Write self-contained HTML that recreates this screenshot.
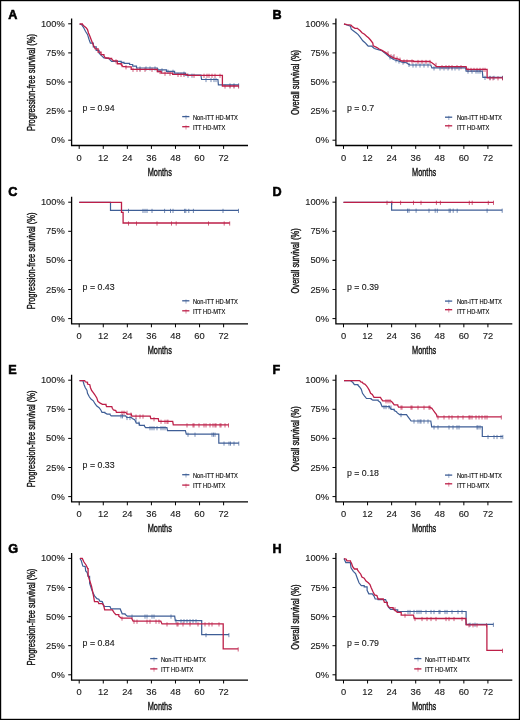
<!DOCTYPE html>
<html><head><meta charset="utf-8"><style>
html,body{margin:0;padding:0;background:#fff;}
svg{display:block;will-change:transform;}
.tk{font-family:"Liberation Sans",sans-serif;font-size:8.5px;fill:#1a1a1a;stroke:#1a1a1a;stroke-width:0.12px;}
.ttl{font-family:"Liberation Sans",sans-serif;font-size:11px;fill:#111;stroke:#111;stroke-width:0.4px;}
.pv{font-family:"Liberation Sans",sans-serif;font-size:8.5px;fill:#1a1a1a;stroke:#1a1a1a;stroke-width:0.12px;}
.lg{font-family:"Liberation Sans",sans-serif;font-size:6.8px;fill:#000;stroke:#000;stroke-width:0.12px;}
</style></head><body>
<svg width="520" height="720" viewBox="0 0 520 720">
<rect x="0" y="0" width="520" height="720" fill="#fff"/>
<g transform="translate(0,0)">
<text transform="translate(8.2,18.6) scale(0.93,1)" font-family="Liberation Sans" font-weight="bold" font-size="13.6" fill="#000" stroke="#000" stroke-width="0.6">A</text>
<path d="M71.6,18.4V145.5H248" fill="none" stroke="#000" stroke-width="1.3"/>
<path d="M68.2,23.8H71.6" stroke="#000" stroke-width="1"/>
<text transform="translate(64.8,26.8) scale(1.1,1)" text-anchor="end" class="tk">100%</text>
<path d="M68.2,52.9H71.6" stroke="#000" stroke-width="1"/>
<text transform="translate(64.8,55.9) scale(1.1,1)" text-anchor="end" class="tk">75%</text>
<path d="M68.2,82H71.6" stroke="#000" stroke-width="1"/>
<text transform="translate(64.8,85) scale(1.1,1)" text-anchor="end" class="tk">50%</text>
<path d="M68.2,111.1H71.6" stroke="#000" stroke-width="1"/>
<text transform="translate(64.8,114.1) scale(1.1,1)" text-anchor="end" class="tk">25%</text>
<path d="M68.2,140.2H71.6" stroke="#000" stroke-width="1"/>
<text transform="translate(64.8,143.2) scale(1.1,1)" text-anchor="end" class="tk">0%</text>
<path d="M79.2,145.5V148.9" stroke="#000" stroke-width="1"/>
<text transform="translate(79.2,160.7) scale(1.1,1)" text-anchor="middle" class="tk">0</text>
<path d="M103.27,145.5V148.9" stroke="#000" stroke-width="1"/>
<text transform="translate(103.27,160.7) scale(1.1,1)" text-anchor="middle" class="tk">12</text>
<path d="M127.34,145.5V148.9" stroke="#000" stroke-width="1"/>
<text transform="translate(127.34,160.7) scale(1.1,1)" text-anchor="middle" class="tk">24</text>
<path d="M151.41,145.5V148.9" stroke="#000" stroke-width="1"/>
<text transform="translate(151.41,160.7) scale(1.1,1)" text-anchor="middle" class="tk">36</text>
<path d="M175.48,145.5V148.9" stroke="#000" stroke-width="1"/>
<text transform="translate(175.48,160.7) scale(1.1,1)" text-anchor="middle" class="tk">48</text>
<path d="M199.55,145.5V148.9" stroke="#000" stroke-width="1"/>
<text transform="translate(199.55,160.7) scale(1.1,1)" text-anchor="middle" class="tk">60</text>
<path d="M223.62,145.5V148.9" stroke="#000" stroke-width="1"/>
<text transform="translate(223.62,160.7) scale(1.1,1)" text-anchor="middle" class="tk">72</text>
<text transform="translate(159.8,175.8) scale(0.67,1)" text-anchor="middle" class="ttl">Months</text>
<text transform="translate(35,82.5) rotate(-90) scale(0.685,1)" text-anchor="middle" class="ttl">Progression-free survival (%)</text>
<text transform="translate(82.6,111.3) scale(1.035,1)" class="pv">p = 0.94</text>
</g>
<path d="M182.2,116.6H189.4" stroke="#3e5e96" stroke-width="1.3"/><path d="M186,115.2V119.4" stroke="#3e5e96" stroke-width="0.7" opacity="0.75"/>
<text transform="translate(192.9,120) scale(0.845,1)" class="lg">Non-ITT HD-MTX</text>
<path d="M182.2,126.7H189.4" stroke="#bd1f48" stroke-width="1.3"/><path d="M186,125.3V129.5" stroke="#bd1f48" stroke-width="0.7" opacity="0.75"/>
<text transform="translate(192.9,130) scale(0.845,1)" class="lg">ITT HD-MTX</text>
<path d="M140,66.4V70.6M146,66.4V70.6M150,66.4V70.6M155,66.4V70.6M158,68.3V72.5M162,68.3V72.5M168,69.7V73.9M173,69.7V73.9M184,71.6V75.8M188,73.6V77.8M192,73.6V77.8M206,77.9V82.1M211,77.9V82.1M214,77.9V82.1M216,77.9V82.1M230,83.3V87.5M234,83.3V87.5M238.6,83.3V87.5" fill="none" stroke="#3e5e96" stroke-width="0.8" opacity="0.9"/>
<path d="M116,59.3V63.5M122,63.1V67.3M126,65.2V69.4M133,67.7V71.9M137,67.7V71.9M140,67.7V71.9M145,67.7V71.9M152,67.7V71.9M160,69.9V74.1M165,71.6V75.8M170,71.6V75.8M178,72.8V77M181,72.8V77M184,72.8V77M194,73.7V77.9M204,73.7V77.9M207,73.7V77.9M209,73.7V77.9M212,73.7V77.9M215,73.7V77.9M220,73.7V77.9M225,84.4V88.6M230,84.4V88.6M234,84.4V88.6M238.6,84.4V88.6" fill="none" stroke="#bd1f48" stroke-width="0.8" opacity="0.9"/>
<path d="M79.6,24L81.8,24.8L83.7,27.7L85.6,31.5L87.5,34.4L89,39.2L90.4,43.1H93.3V46.9H96.2V50.3H99.1V53.2L101.5,55.6L103.9,58H106.8V58.5H109.7V59.4L111.6,61.3H117.3V61.3H121.2V62.3H124V63.4H129.6V64.5H132.7V66.1H136.5V68H157.3V68.3H157.3V69.9H166.5V70.3H166.5V71.3H174.6V71.3H174.6V73.2H185.5V73.2H185.5V75.2H200.9V75.3L201.6,79.5H217.9V79.5L218.4,84.9H238.6V84.9" fill="none" stroke="#3e5e96" stroke-width="1.2"/>
<path d="M79.6,24H82.3V24.3L83.7,25.8L86.1,27.7L87.5,29.6L88.5,33L89.9,36.3L91.4,40.2L93.3,45L95.2,48.8H98.1V52.2H101V54.6H103.9V55.6L105.3,58H108.7V58.5H111.6V58.9L113.5,60.9H117.3V63.75H121.2V64.7L123.1,66.6H125.8V66.8H131.2V66.8H131.2V69.3H157.3V69.4H157.3V71.5H161.2V71.8H161.2V73.2H172.7V73.4H172.7V74.4H187.3V74.6H187.3V75.3H222.2V75.3H222.4V86H238.6V86" fill="none" stroke="#bd1f48" stroke-width="1.3"/>
<g transform="translate(264.3,0)">
<text transform="translate(8.2,18.6) scale(0.93,1)" font-family="Liberation Sans" font-weight="bold" font-size="13.6" fill="#000" stroke="#000" stroke-width="0.6">B</text>
<path d="M71.6,18.4V145.5H248" fill="none" stroke="#000" stroke-width="1.3"/>
<path d="M68.2,23.8H71.6" stroke="#000" stroke-width="1"/>
<text transform="translate(64.8,26.8) scale(1.1,1)" text-anchor="end" class="tk">100%</text>
<path d="M68.2,52.9H71.6" stroke="#000" stroke-width="1"/>
<text transform="translate(64.8,55.9) scale(1.1,1)" text-anchor="end" class="tk">75%</text>
<path d="M68.2,82H71.6" stroke="#000" stroke-width="1"/>
<text transform="translate(64.8,85) scale(1.1,1)" text-anchor="end" class="tk">50%</text>
<path d="M68.2,111.1H71.6" stroke="#000" stroke-width="1"/>
<text transform="translate(64.8,114.1) scale(1.1,1)" text-anchor="end" class="tk">25%</text>
<path d="M68.2,140.2H71.6" stroke="#000" stroke-width="1"/>
<text transform="translate(64.8,143.2) scale(1.1,1)" text-anchor="end" class="tk">0%</text>
<path d="M79.2,145.5V148.9" stroke="#000" stroke-width="1"/>
<text transform="translate(79.2,160.7) scale(1.1,1)" text-anchor="middle" class="tk">0</text>
<path d="M103.27,145.5V148.9" stroke="#000" stroke-width="1"/>
<text transform="translate(103.27,160.7) scale(1.1,1)" text-anchor="middle" class="tk">12</text>
<path d="M127.34,145.5V148.9" stroke="#000" stroke-width="1"/>
<text transform="translate(127.34,160.7) scale(1.1,1)" text-anchor="middle" class="tk">24</text>
<path d="M151.41,145.5V148.9" stroke="#000" stroke-width="1"/>
<text transform="translate(151.41,160.7) scale(1.1,1)" text-anchor="middle" class="tk">36</text>
<path d="M175.48,145.5V148.9" stroke="#000" stroke-width="1"/>
<text transform="translate(175.48,160.7) scale(1.1,1)" text-anchor="middle" class="tk">48</text>
<path d="M199.55,145.5V148.9" stroke="#000" stroke-width="1"/>
<text transform="translate(199.55,160.7) scale(1.1,1)" text-anchor="middle" class="tk">60</text>
<path d="M223.62,145.5V148.9" stroke="#000" stroke-width="1"/>
<text transform="translate(223.62,160.7) scale(1.1,1)" text-anchor="middle" class="tk">72</text>
<text transform="translate(159.8,175.8) scale(0.67,1)" text-anchor="middle" class="ttl">Months</text>
<text transform="translate(35,82.5) rotate(-90) scale(0.685,1)" text-anchor="middle" class="ttl">Overall survival (%)</text>
<text transform="translate(82.6,111.3) scale(1.035,1)" class="pv">p = 0.7</text>
</g>
<path d="M445,117.2H452.2" stroke="#3e5e96" stroke-width="1.3"/><path d="M448.8,115.8V120" stroke="#3e5e96" stroke-width="0.7" opacity="0.75"/>
<text transform="translate(456.9,120) scale(0.845,1)" class="lg">Non-ITT HD-MTX</text>
<path d="M445,125.8H452.2" stroke="#bd1f48" stroke-width="1.3"/><path d="M448.8,124.4V128.6" stroke="#bd1f48" stroke-width="0.7" opacity="0.75"/>
<text transform="translate(456.9,130) scale(0.845,1)" class="lg">ITT HD-MTX</text>
<path d="M390,55.3V59.5M393,55.3V59.5M396,58.2V62.4M399,59.4V63.6M403,60.5V64.7M409,62.8V67M413,63.4V67.6M416,63.4V67.6M420,63.4V67.6M424,63.4V67.6M428,63.4V67.6M434,66.3V70.5M440,66.3V70.5M444,66.3V70.5M448,66.3V70.5M452,66.3V70.5M455,66.3V70.5M459,66.3V70.5M468,69.5V73.7M472,69.5V73.7M476,69.5V73.7M478,69.5V73.7M480,69.5V73.7M485,75.8V80M490,75.8V80M494,75.8V80M502.5,75.8V80" fill="none" stroke="#3e5e96" stroke-width="0.8" opacity="0.9"/>
<path d="M388,51.3V55.5M391,54.2V58.4M394,54.2V58.4M397,56.5V60.7M400,57.6V61.8M404,59.4V63.6M407,59.4V63.6M412,59.4V63.6M418,59.9V64.1M422,59.9V64.1M426,59.9V64.1M430,59.9V64.1M436,62.8V67M442,65.1V69.3M446,65.1V69.3M449,65.1V69.3M452,65.1V69.3M457,65.1V69.3M461,65.1V69.3M468,67.8V72M471,67.8V72M474,67.8V72M477,67.8V72M480,67.8V72M483,67.8V72M485,67.8V72M490,76.2V80.4M493,76.2V80.4M498,76.2V80.4M502.5,76.2V80.4" fill="none" stroke="#bd1f48" stroke-width="0.8" opacity="0.9"/>
<path d="M344,24L347,25L350.5,26.2L351.2,29.2L354.3,31.5L356.3,33L358.2,34.6L360.5,37.7L362.8,40.8L365.1,42.7L366.7,44.5L368.2,46.2H372V46.5L374.3,48.5L378.2,49.6L382,50.8L386.1,54L389.6,56.9L394.2,59.8L398.5,61L401.9,62.1L406.5,62.7L408.8,64.4L410,65H430.8V65L431.9,67.9H465.6V67.9L466.1,71.1H482.3V71.1L482.9,77.4H502.5V77.4" fill="none" stroke="#3e5e96" stroke-width="1.2"/>
<path d="M344,24L346.9,24.6L351,25.2L352.7,26.9L355,28.3H357.4V28.5L360,30.5L362,32.7L364.5,34.2L366.6,36.2L368.5,37.8L370.5,40L372.8,43.1L373.2,45.8L376.6,47.3L379.2,49L382,50.4L386.1,52.9L389.6,55.8L394.2,58.1L398.5,59.2L401.9,61H413.5V61.5H429.6V61.5L431.9,62.7L434.2,64.4L436.5,66.7H466.1V66.7L466.7,69.4H486.9V69.4H487.1V77.8H502.5V77.8" fill="none" stroke="#bd1f48" stroke-width="1.3"/>
<g transform="translate(0,178.4)">
<text transform="translate(8.2,18) scale(0.93,1)" font-family="Liberation Sans" font-weight="bold" font-size="13.6" fill="#000" stroke="#000" stroke-width="0.6">C</text>
<path d="M71.6,18.4V145.5H248" fill="none" stroke="#000" stroke-width="1.3"/>
<path d="M68.2,23.8H71.6" stroke="#000" stroke-width="1"/>
<text transform="translate(64.8,26.8) scale(1.1,1)" text-anchor="end" class="tk">100%</text>
<path d="M68.2,52.9H71.6" stroke="#000" stroke-width="1"/>
<text transform="translate(64.8,55.9) scale(1.1,1)" text-anchor="end" class="tk">75%</text>
<path d="M68.2,82H71.6" stroke="#000" stroke-width="1"/>
<text transform="translate(64.8,85) scale(1.1,1)" text-anchor="end" class="tk">50%</text>
<path d="M68.2,111.1H71.6" stroke="#000" stroke-width="1"/>
<text transform="translate(64.8,114.1) scale(1.1,1)" text-anchor="end" class="tk">25%</text>
<path d="M68.2,140.2H71.6" stroke="#000" stroke-width="1"/>
<text transform="translate(64.8,143.2) scale(1.1,1)" text-anchor="end" class="tk">0%</text>
<path d="M79.2,145.5V148.9" stroke="#000" stroke-width="1"/>
<text transform="translate(79.2,160.7) scale(1.1,1)" text-anchor="middle" class="tk">0</text>
<path d="M103.27,145.5V148.9" stroke="#000" stroke-width="1"/>
<text transform="translate(103.27,160.7) scale(1.1,1)" text-anchor="middle" class="tk">12</text>
<path d="M127.34,145.5V148.9" stroke="#000" stroke-width="1"/>
<text transform="translate(127.34,160.7) scale(1.1,1)" text-anchor="middle" class="tk">24</text>
<path d="M151.41,145.5V148.9" stroke="#000" stroke-width="1"/>
<text transform="translate(151.41,160.7) scale(1.1,1)" text-anchor="middle" class="tk">36</text>
<path d="M175.48,145.5V148.9" stroke="#000" stroke-width="1"/>
<text transform="translate(175.48,160.7) scale(1.1,1)" text-anchor="middle" class="tk">48</text>
<path d="M199.55,145.5V148.9" stroke="#000" stroke-width="1"/>
<text transform="translate(199.55,160.7) scale(1.1,1)" text-anchor="middle" class="tk">60</text>
<path d="M223.62,145.5V148.9" stroke="#000" stroke-width="1"/>
<text transform="translate(223.62,160.7) scale(1.1,1)" text-anchor="middle" class="tk">72</text>
<text transform="translate(159.8,175.8) scale(0.67,1)" text-anchor="middle" class="ttl">Months</text>
<text transform="translate(35,82.5) rotate(-90) scale(0.685,1)" text-anchor="middle" class="ttl">Progression-free survival (%)</text>
<text transform="translate(82.6,111.3) scale(1.035,1)" class="pv">p = 0.43</text>
</g>
<path d="M182.2,300.8H189.4" stroke="#3e5e96" stroke-width="1.3"/><path d="M186,299.4V303.6" stroke="#3e5e96" stroke-width="0.7" opacity="0.75"/>
<text transform="translate(192.9,303.9) scale(0.845,1)" class="lg">Non-ITT HD-MTX</text>
<path d="M182.2,310.8H189.4" stroke="#bd1f48" stroke-width="1.3"/><path d="M186,309.4V313.6" stroke="#bd1f48" stroke-width="0.7" opacity="0.75"/>
<text transform="translate(192.9,313.9) scale(0.845,1)" class="lg">ITT HD-MTX</text>
<path d="M128.5,208.8V213M143,208.8V213M145,208.8V213M147,208.8V213M152,208.8V213M164.6,208.8V213M170.5,208.8V213M173,208.8V213M184.6,208.8V213M185.8,208.8V213M188.8,208.8V213M193.4,208.8V213M223,208.8V213M238.5,208.8V213" fill="none" stroke="#3e5e96" stroke-width="0.8" opacity="0.9"/>
<path d="M128.5,221.4V225.6M136.5,221.4V225.6M157,221.4V225.6M171.5,221.4V225.6M176.2,221.4V225.6M208.5,221.4V225.6M224.2,221.4V225.6M229.7,221.4V225.6" fill="none" stroke="#bd1f48" stroke-width="0.8" opacity="0.9"/>
<path d="M79.2,202.3H110.5V202.3H110.5V210.4H238.5V210.4" fill="none" stroke="#3e5e96" stroke-width="1.2"/>
<path d="M79.2,202.3H121.5V202.3H121.5V212.4H123.1V212.4H123.1V223H229.7V223" fill="none" stroke="#bd1f48" stroke-width="1.3"/>
<g transform="translate(264.3,178.4)">
<text transform="translate(8.2,18) scale(0.93,1)" font-family="Liberation Sans" font-weight="bold" font-size="13.6" fill="#000" stroke="#000" stroke-width="0.6">D</text>
<path d="M71.6,18.4V145.5H248" fill="none" stroke="#000" stroke-width="1.3"/>
<path d="M68.2,23.8H71.6" stroke="#000" stroke-width="1"/>
<text transform="translate(64.8,26.8) scale(1.1,1)" text-anchor="end" class="tk">100%</text>
<path d="M68.2,52.9H71.6" stroke="#000" stroke-width="1"/>
<text transform="translate(64.8,55.9) scale(1.1,1)" text-anchor="end" class="tk">75%</text>
<path d="M68.2,82H71.6" stroke="#000" stroke-width="1"/>
<text transform="translate(64.8,85) scale(1.1,1)" text-anchor="end" class="tk">50%</text>
<path d="M68.2,111.1H71.6" stroke="#000" stroke-width="1"/>
<text transform="translate(64.8,114.1) scale(1.1,1)" text-anchor="end" class="tk">25%</text>
<path d="M68.2,140.2H71.6" stroke="#000" stroke-width="1"/>
<text transform="translate(64.8,143.2) scale(1.1,1)" text-anchor="end" class="tk">0%</text>
<path d="M79.2,145.5V148.9" stroke="#000" stroke-width="1"/>
<text transform="translate(79.2,160.7) scale(1.1,1)" text-anchor="middle" class="tk">0</text>
<path d="M103.27,145.5V148.9" stroke="#000" stroke-width="1"/>
<text transform="translate(103.27,160.7) scale(1.1,1)" text-anchor="middle" class="tk">12</text>
<path d="M127.34,145.5V148.9" stroke="#000" stroke-width="1"/>
<text transform="translate(127.34,160.7) scale(1.1,1)" text-anchor="middle" class="tk">24</text>
<path d="M151.41,145.5V148.9" stroke="#000" stroke-width="1"/>
<text transform="translate(151.41,160.7) scale(1.1,1)" text-anchor="middle" class="tk">36</text>
<path d="M175.48,145.5V148.9" stroke="#000" stroke-width="1"/>
<text transform="translate(175.48,160.7) scale(1.1,1)" text-anchor="middle" class="tk">48</text>
<path d="M199.55,145.5V148.9" stroke="#000" stroke-width="1"/>
<text transform="translate(199.55,160.7) scale(1.1,1)" text-anchor="middle" class="tk">60</text>
<path d="M223.62,145.5V148.9" stroke="#000" stroke-width="1"/>
<text transform="translate(223.62,160.7) scale(1.1,1)" text-anchor="middle" class="tk">72</text>
<text transform="translate(159.8,175.8) scale(0.67,1)" text-anchor="middle" class="ttl">Months</text>
<text transform="translate(35,82.5) rotate(-90) scale(0.685,1)" text-anchor="middle" class="ttl">Overall survival (%)</text>
<text transform="translate(82.6,111.3) scale(1.035,1)" class="pv">p = 0.39</text>
</g>
<path d="M445,301.1H452.2" stroke="#3e5e96" stroke-width="1.3"/><path d="M448.8,299.7V303.9" stroke="#3e5e96" stroke-width="0.7" opacity="0.75"/>
<text transform="translate(456.9,303.9) scale(0.845,1)" class="lg">Non-ITT HD-MTX</text>
<path d="M445,309.7H452.2" stroke="#bd1f48" stroke-width="1.3"/><path d="M448.8,308.3V312.5" stroke="#bd1f48" stroke-width="0.7" opacity="0.75"/>
<text transform="translate(456.9,313.9) scale(0.845,1)" class="lg">ITT HD-MTX</text>
<path d="M407.5,208.6V212.8M409,208.6V212.8M416.1,208.6V212.8M429,208.6V212.8M435.2,208.6V212.8M437.3,208.6V212.8M449.1,208.6V212.8M450.3,208.6V212.8M453.2,208.6V212.8M457.2,208.6V212.8M487.1,208.6V212.8M502.2,208.6V212.8" fill="none" stroke="#3e5e96" stroke-width="0.8" opacity="0.9"/>
<path d="M387,200.7V204.9M391.9,200.7V204.9M400.6,200.7V204.9M413.5,200.7V204.9M421,200.7V204.9M436.4,200.7V204.9M440.4,200.7V204.9M469.3,200.7V204.9M472.2,200.7V204.9M488.3,200.7V204.9M493.5,200.7V204.9" fill="none" stroke="#bd1f48" stroke-width="0.8" opacity="0.9"/>
<path d="M343.5,202.3H391.6V202.3H391.6V210.2H502.2V210.2" fill="none" stroke="#3e5e96" stroke-width="1.2"/>
<path d="M343.5,202.3H493.5V202.3" fill="none" stroke="#bd1f48" stroke-width="1.3"/>
<g transform="translate(0,356.4)">
<text transform="translate(8.2,18) scale(0.93,1)" font-family="Liberation Sans" font-weight="bold" font-size="13.6" fill="#000" stroke="#000" stroke-width="0.6">E</text>
<path d="M71.6,18.4V145.5H248" fill="none" stroke="#000" stroke-width="1.3"/>
<path d="M68.2,23.8H71.6" stroke="#000" stroke-width="1"/>
<text transform="translate(64.8,26.8) scale(1.1,1)" text-anchor="end" class="tk">100%</text>
<path d="M68.2,52.9H71.6" stroke="#000" stroke-width="1"/>
<text transform="translate(64.8,55.9) scale(1.1,1)" text-anchor="end" class="tk">75%</text>
<path d="M68.2,82H71.6" stroke="#000" stroke-width="1"/>
<text transform="translate(64.8,85) scale(1.1,1)" text-anchor="end" class="tk">50%</text>
<path d="M68.2,111.1H71.6" stroke="#000" stroke-width="1"/>
<text transform="translate(64.8,114.1) scale(1.1,1)" text-anchor="end" class="tk">25%</text>
<path d="M68.2,140.2H71.6" stroke="#000" stroke-width="1"/>
<text transform="translate(64.8,143.2) scale(1.1,1)" text-anchor="end" class="tk">0%</text>
<path d="M79.2,145.5V148.9" stroke="#000" stroke-width="1"/>
<text transform="translate(79.2,160.7) scale(1.1,1)" text-anchor="middle" class="tk">0</text>
<path d="M103.27,145.5V148.9" stroke="#000" stroke-width="1"/>
<text transform="translate(103.27,160.7) scale(1.1,1)" text-anchor="middle" class="tk">12</text>
<path d="M127.34,145.5V148.9" stroke="#000" stroke-width="1"/>
<text transform="translate(127.34,160.7) scale(1.1,1)" text-anchor="middle" class="tk">24</text>
<path d="M151.41,145.5V148.9" stroke="#000" stroke-width="1"/>
<text transform="translate(151.41,160.7) scale(1.1,1)" text-anchor="middle" class="tk">36</text>
<path d="M175.48,145.5V148.9" stroke="#000" stroke-width="1"/>
<text transform="translate(175.48,160.7) scale(1.1,1)" text-anchor="middle" class="tk">48</text>
<path d="M199.55,145.5V148.9" stroke="#000" stroke-width="1"/>
<text transform="translate(199.55,160.7) scale(1.1,1)" text-anchor="middle" class="tk">60</text>
<path d="M223.62,145.5V148.9" stroke="#000" stroke-width="1"/>
<text transform="translate(223.62,160.7) scale(1.1,1)" text-anchor="middle" class="tk">72</text>
<text transform="translate(159.8,175.8) scale(0.67,1)" text-anchor="middle" class="ttl">Months</text>
<text transform="translate(35,82.5) rotate(-90) scale(0.685,1)" text-anchor="middle" class="ttl">Progression-free survival (%)</text>
<text transform="translate(82.6,111.3) scale(1.035,1)" class="pv">p = 0.33</text>
</g>
<path d="M182.2,474.7H189.4" stroke="#3e5e96" stroke-width="1.3"/><path d="M186,473.3V477.5" stroke="#3e5e96" stroke-width="0.7" opacity="0.75"/>
<text transform="translate(192.9,478.1) scale(0.845,1)" class="lg">Non-ITT HD-MTX</text>
<path d="M182.2,485.1H189.4" stroke="#bd1f48" stroke-width="1.3"/><path d="M186,483.7V487.9" stroke="#bd1f48" stroke-width="0.7" opacity="0.75"/>
<text transform="translate(192.9,488.1) scale(0.845,1)" class="lg">ITT HD-MTX</text>
<path d="M121,414.2V418.4M122.5,414.2V418.4M127,415.9V420.1M130,415.9V420.1M136,418V422.2M139,421.5V425.7M150,426.1V430.3M152,426.1V430.3M154,426.1V430.3M157,426.1V430.3M161,426.1V430.3M163,426.1V430.3M165,426.1V430.3M188,432.6V436.8M195,432.6V436.8M212,432.6V436.8M213.5,432.6V436.8M215,432.6V436.8M224,441.5V445.7M229,441.5V445.7M230.5,441.5V445.7M234,441.5V445.7M238.8,441.5V445.7" fill="none" stroke="#3e5e96" stroke-width="0.8" opacity="0.9"/>
<path d="M122,410.7V414.9M124,410.7V414.9M127,410.7V414.9M131,412.5V416.7M136,414.5V418.7M140,414.5V418.7M143,414.5V418.7M154,417.1V421.3M161,419.7V423.9M165,419.7V423.9M167,419.7V423.9M168,419.7V423.9M187,423.3V427.5M193,423.3V427.5M194,423.3V427.5M199,423.3V427.5M204,423.3V427.5M206,423.3V427.5M210,423.3V427.5M213,423.3V427.5M215,423.3V427.5M216,423.3V427.5M220,423.3V427.5M221,423.3V427.5M225,423.3V427.5M228.5,423.3V427.5" fill="none" stroke="#bd1f48" stroke-width="0.8" opacity="0.9"/>
<path d="M79.5,380.6H82.9V380.6L84.1,384.7L85.2,387.5L87,390.4L87.5,393.3L89.3,396.8L91,399.1L93.3,400.8L95,403.7L96.8,406L99.1,407.7L100.8,410L102,412.3H104.8V412.9L107.1,414.1H110V414.6L111.2,415.8H125.6V415.8L126.8,417.5H131.4V417.5L132.3,418.5L134.6,419.6L136.3,423.1H139.2V423.6L139.8,425.4H144.4V426L145.6,427.7H166.9V427.7L167.5,430.6H185.4V430.6L186.3,434.2H218.1V434.2H218.8V443.1H238.8V443.1" fill="none" stroke="#3e5e96" stroke-width="1.2"/>
<path d="M79.5,380.6H84.7V380.6L85.2,381.8L87.5,382.3H87.5V384.1L89.8,384.7L90.4,387.5L91.6,390.4L93.3,392.7L95,395L96.8,397.9L97.9,401.4L100.2,403.1L102.5,404.3H106V405.4L106.6,406.6H111.8V406.6L112.3,408.3L113.5,410L115.8,410.6L116.4,412.3H125.6V412.3L127.3,414.1H131.4V414.6L131.9,416.1H150.2V416.1L150.8,418.7H158.3V418.7L158.8,421.3H172.7V421.3L173.3,424.9H228.5V424.9" fill="none" stroke="#bd1f48" stroke-width="1.3"/>
<g transform="translate(264.3,356.4)">
<text transform="translate(8.2,18) scale(0.93,1)" font-family="Liberation Sans" font-weight="bold" font-size="13.6" fill="#000" stroke="#000" stroke-width="0.6">F</text>
<path d="M71.6,18.4V145.5H248" fill="none" stroke="#000" stroke-width="1.3"/>
<path d="M68.2,23.8H71.6" stroke="#000" stroke-width="1"/>
<text transform="translate(64.8,26.8) scale(1.1,1)" text-anchor="end" class="tk">100%</text>
<path d="M68.2,52.9H71.6" stroke="#000" stroke-width="1"/>
<text transform="translate(64.8,55.9) scale(1.1,1)" text-anchor="end" class="tk">75%</text>
<path d="M68.2,82H71.6" stroke="#000" stroke-width="1"/>
<text transform="translate(64.8,85) scale(1.1,1)" text-anchor="end" class="tk">50%</text>
<path d="M68.2,111.1H71.6" stroke="#000" stroke-width="1"/>
<text transform="translate(64.8,114.1) scale(1.1,1)" text-anchor="end" class="tk">25%</text>
<path d="M68.2,140.2H71.6" stroke="#000" stroke-width="1"/>
<text transform="translate(64.8,143.2) scale(1.1,1)" text-anchor="end" class="tk">0%</text>
<path d="M79.2,145.5V148.9" stroke="#000" stroke-width="1"/>
<text transform="translate(79.2,160.7) scale(1.1,1)" text-anchor="middle" class="tk">0</text>
<path d="M103.27,145.5V148.9" stroke="#000" stroke-width="1"/>
<text transform="translate(103.27,160.7) scale(1.1,1)" text-anchor="middle" class="tk">12</text>
<path d="M127.34,145.5V148.9" stroke="#000" stroke-width="1"/>
<text transform="translate(127.34,160.7) scale(1.1,1)" text-anchor="middle" class="tk">24</text>
<path d="M151.41,145.5V148.9" stroke="#000" stroke-width="1"/>
<text transform="translate(151.41,160.7) scale(1.1,1)" text-anchor="middle" class="tk">36</text>
<path d="M175.48,145.5V148.9" stroke="#000" stroke-width="1"/>
<text transform="translate(175.48,160.7) scale(1.1,1)" text-anchor="middle" class="tk">48</text>
<path d="M199.55,145.5V148.9" stroke="#000" stroke-width="1"/>
<text transform="translate(199.55,160.7) scale(1.1,1)" text-anchor="middle" class="tk">60</text>
<path d="M223.62,145.5V148.9" stroke="#000" stroke-width="1"/>
<text transform="translate(223.62,160.7) scale(1.1,1)" text-anchor="middle" class="tk">72</text>
<text transform="translate(159.8,175.8) scale(0.67,1)" text-anchor="middle" class="ttl">Months</text>
<text transform="translate(35,82.5) rotate(-90) scale(0.685,1)" text-anchor="middle" class="ttl">Overall survival (%)</text>
<text transform="translate(82.6,120) scale(1.035,1)" class="pv">p = 0.18</text>
</g>
<path d="M445,475.1H452.2" stroke="#3e5e96" stroke-width="1.3"/><path d="M448.8,473.7V477.9" stroke="#3e5e96" stroke-width="0.7" opacity="0.75"/>
<text transform="translate(456.9,478.1) scale(0.845,1)" class="lg">Non-ITT HD-MTX</text>
<path d="M445,483.8H452.2" stroke="#bd1f48" stroke-width="1.3"/><path d="M448.8,482.4V486.6" stroke="#bd1f48" stroke-width="0.7" opacity="0.75"/>
<text transform="translate(456.9,488.1) scale(0.845,1)" class="lg">ITT HD-MTX</text>
<path d="M384,405V409.2M386,405V409.2M389,405V409.2M391,405.5V409.7M401,413V417.2M414,419.4V423.6M418,419.4V423.6M420,419.4V423.6M421,419.4V423.6M424,419.4V423.6M428,419.4V423.6M434,425.3V429.5M438,425.3V429.5M449,425.3V429.5M453,425.3V429.5M457,425.3V429.5M459,425.3V429.5M477,425.3V429.5M478,425.3V429.5M480,425.3V429.5M488,434.9V439.1M494,434.9V439.1M497,434.9V439.1M501,434.9V439.1M502.8,434.9V439.1" fill="none" stroke="#3e5e96" stroke-width="0.8" opacity="0.9"/>
<path d="M386,399.2V403.4M388,399.2V403.4M390,399.2V403.4M401,405.5V409.7M402,405.5V409.7M411,405.5V409.7M412,405.5V409.7M418,405.5V409.7M424,405.5V409.7M429,405.5V409.7M430,405.5V409.7M438,415.3V419.5M444,415.3V419.5M449,415.3V419.5M452,415.3V419.5M458,415.3V419.5M463,415.3V419.5M469,415.3V419.5M470,415.3V419.5M472,415.3V419.5M476,415.3V419.5M479,415.3V419.5M482,415.3V419.5M485,415.3V419.5M487,415.3V419.5M501.3,415.3V419.5" fill="none" stroke="#bd1f48" stroke-width="0.8" opacity="0.9"/>
<path d="M344,380.6H351V381.2L352.7,382.3L354.4,384.7H357.9V385.2L359.6,387L361.3,389.3L362.5,393.3L364.2,395.6L366.5,398.5H371.1V399.1L372.9,400.2H378.1V400.8L380.4,402.5L382.1,406.6H389.6V407.1L391.3,409.4H394.2V410.6L396.5,411.8L397.3,412.9L399.6,414.6H406.5V414.6L407.7,416.3L409.4,418.6L411.1,421H430.8V421L431.7,426.9H481.9V426.9H482.3V436.5H502.8V436.5" fill="none" stroke="#3e5e96" stroke-width="1.2"/>
<path d="M344,380.6H359.6V380.6L360.8,381.8L362.5,382.3L363.1,383.5L364.8,384.1L366.5,385.8L367.7,387.5L369.4,390.4L370.6,393.3L372.3,394.5L374,397.3H380.4V397.3L381.5,399.1L382.7,400.8H390.7V400.8L392.5,402.5L394.2,404.8H397.7V405.4L398.5,407.1H429.6V407.1L431.9,408.3L433.1,410L434.8,412.3L436.5,414.6L437.1,416.9H501.3V416.9" fill="none" stroke="#bd1f48" stroke-width="1.3"/>
<g transform="translate(0,534.6)">
<text transform="translate(8.2,18) scale(0.93,1)" font-family="Liberation Sans" font-weight="bold" font-size="13.6" fill="#000" stroke="#000" stroke-width="0.6">G</text>
<path d="M71.6,18.4V145.5H248" fill="none" stroke="#000" stroke-width="1.3"/>
<path d="M68.2,23.8H71.6" stroke="#000" stroke-width="1"/>
<text transform="translate(64.8,26.8) scale(1.1,1)" text-anchor="end" class="tk">100%</text>
<path d="M68.2,52.9H71.6" stroke="#000" stroke-width="1"/>
<text transform="translate(64.8,55.9) scale(1.1,1)" text-anchor="end" class="tk">75%</text>
<path d="M68.2,82H71.6" stroke="#000" stroke-width="1"/>
<text transform="translate(64.8,85) scale(1.1,1)" text-anchor="end" class="tk">50%</text>
<path d="M68.2,111.1H71.6" stroke="#000" stroke-width="1"/>
<text transform="translate(64.8,114.1) scale(1.1,1)" text-anchor="end" class="tk">25%</text>
<path d="M68.2,140.2H71.6" stroke="#000" stroke-width="1"/>
<text transform="translate(64.8,143.2) scale(1.1,1)" text-anchor="end" class="tk">0%</text>
<path d="M79.2,145.5V148.9" stroke="#000" stroke-width="1"/>
<text transform="translate(79.2,160.7) scale(1.1,1)" text-anchor="middle" class="tk">0</text>
<path d="M103.27,145.5V148.9" stroke="#000" stroke-width="1"/>
<text transform="translate(103.27,160.7) scale(1.1,1)" text-anchor="middle" class="tk">12</text>
<path d="M127.34,145.5V148.9" stroke="#000" stroke-width="1"/>
<text transform="translate(127.34,160.7) scale(1.1,1)" text-anchor="middle" class="tk">24</text>
<path d="M151.41,145.5V148.9" stroke="#000" stroke-width="1"/>
<text transform="translate(151.41,160.7) scale(1.1,1)" text-anchor="middle" class="tk">36</text>
<path d="M175.48,145.5V148.9" stroke="#000" stroke-width="1"/>
<text transform="translate(175.48,160.7) scale(1.1,1)" text-anchor="middle" class="tk">48</text>
<path d="M199.55,145.5V148.9" stroke="#000" stroke-width="1"/>
<text transform="translate(199.55,160.7) scale(1.1,1)" text-anchor="middle" class="tk">60</text>
<path d="M223.62,145.5V148.9" stroke="#000" stroke-width="1"/>
<text transform="translate(223.62,160.7) scale(1.1,1)" text-anchor="middle" class="tk">72</text>
<text transform="translate(159.8,175.8) scale(0.67,1)" text-anchor="middle" class="ttl">Months</text>
<text transform="translate(35,82.5) rotate(-90) scale(0.685,1)" text-anchor="middle" class="ttl">Progression-free survival (%)</text>
<text transform="translate(82.6,111.3) scale(1.035,1)" class="pv">p = 0.84</text>
</g>
<path d="M150.2,658.6H157.4" stroke="#3e5e96" stroke-width="1.3"/><path d="M154,657.2V661.4" stroke="#3e5e96" stroke-width="0.7" opacity="0.75"/>
<text transform="translate(160.9,661.9) scale(0.845,1)" class="lg">Non-ITT HD-MTX</text>
<path d="M150.2,668.9H157.4" stroke="#bd1f48" stroke-width="1.3"/><path d="M154,667.5V671.7" stroke="#bd1f48" stroke-width="0.7" opacity="0.75"/>
<text transform="translate(160.9,671.9) scale(0.845,1)" class="lg">ITT HD-MTX</text>
<path d="M132,614.5V618.7M145,614.5V618.7M147,614.5V618.7M152,614.5V618.7M154,614.5V618.7M171,614.5V618.7M176,619.1V623.3M181,619.1V623.3M184,619.1V623.3M187,619.1V623.3M190,619.1V623.3M193,619.1V623.3M196,619.1V623.3M206,633V637.2M228.9,633V637.2" fill="none" stroke="#3e5e96" stroke-width="0.8" opacity="0.9"/>
<path d="M122,616.5V620.7M134,619.6V623.8M137,619.6V623.8M147,619.6V623.8M150,619.6V623.8M156,619.6V623.8M159,619.6V623.8M167,622.3V626.5M177,622.3V626.5M178,622.3V626.5M183,622.3V626.5M190,622.3V626.5M198,622.3V626.5M205,622.3V626.5M209,622.3V626.5M212,622.3V626.5M219,622.3V626.5M238.2,647.3V651.5" fill="none" stroke="#bd1f48" stroke-width="0.8" opacity="0.9"/>
<path d="M79.9,558.4L81.3,560.8L82.8,566.1L85.2,566.6L85.7,571L87.2,572.5L88.1,576.4H89.6V583.2L91.5,589L93,592.9L94.5,595.8L95.4,596.8L96.9,598.7L98.8,599.2L99.8,601.1L102.2,601.6L104.2,606.5H110V606.5L111,608.9H120.2V608.9L122.2,613.8H125V614.2L127.3,616.1H174.7V616.1L175.3,620.7H201.2V620.7H201.7V634.6H228.9V634.6" fill="none" stroke="#3e5e96" stroke-width="1.2"/>
<path d="M79.9,558.4H82.3V558.4L83.8,561.8L86.2,565.2L87.7,568.6H88.1V575.4L89.6,580.2L91.5,586.1L92.5,590.9L93.5,595.8L94.5,601.6H97.9V601.6L98.8,603.6H102.2V603.6L103.7,605.5L104.7,609.9H112.4V609.9L113.9,612.3L115.8,614.7H118.8V616.2L121.2,618.1H131.9V618.9L133.1,621.2H160.8V621.2L162,623.9H222.9V623.9H223.2V648.9H238.2V648.9" fill="none" stroke="#bd1f48" stroke-width="1.3"/>
<g transform="translate(264.3,534.6)">
<text transform="translate(8.2,18) scale(0.93,1)" font-family="Liberation Sans" font-weight="bold" font-size="13.6" fill="#000" stroke="#000" stroke-width="0.6">H</text>
<path d="M71.6,18.4V145.5H248" fill="none" stroke="#000" stroke-width="1.3"/>
<path d="M68.2,23.8H71.6" stroke="#000" stroke-width="1"/>
<text transform="translate(64.8,26.8) scale(1.1,1)" text-anchor="end" class="tk">100%</text>
<path d="M68.2,52.9H71.6" stroke="#000" stroke-width="1"/>
<text transform="translate(64.8,55.9) scale(1.1,1)" text-anchor="end" class="tk">75%</text>
<path d="M68.2,82H71.6" stroke="#000" stroke-width="1"/>
<text transform="translate(64.8,85) scale(1.1,1)" text-anchor="end" class="tk">50%</text>
<path d="M68.2,111.1H71.6" stroke="#000" stroke-width="1"/>
<text transform="translate(64.8,114.1) scale(1.1,1)" text-anchor="end" class="tk">25%</text>
<path d="M68.2,140.2H71.6" stroke="#000" stroke-width="1"/>
<text transform="translate(64.8,143.2) scale(1.1,1)" text-anchor="end" class="tk">0%</text>
<path d="M79.2,145.5V148.9" stroke="#000" stroke-width="1"/>
<text transform="translate(79.2,160.7) scale(1.1,1)" text-anchor="middle" class="tk">0</text>
<path d="M103.27,145.5V148.9" stroke="#000" stroke-width="1"/>
<text transform="translate(103.27,160.7) scale(1.1,1)" text-anchor="middle" class="tk">12</text>
<path d="M127.34,145.5V148.9" stroke="#000" stroke-width="1"/>
<text transform="translate(127.34,160.7) scale(1.1,1)" text-anchor="middle" class="tk">24</text>
<path d="M151.41,145.5V148.9" stroke="#000" stroke-width="1"/>
<text transform="translate(151.41,160.7) scale(1.1,1)" text-anchor="middle" class="tk">36</text>
<path d="M175.48,145.5V148.9" stroke="#000" stroke-width="1"/>
<text transform="translate(175.48,160.7) scale(1.1,1)" text-anchor="middle" class="tk">48</text>
<path d="M199.55,145.5V148.9" stroke="#000" stroke-width="1"/>
<text transform="translate(199.55,160.7) scale(1.1,1)" text-anchor="middle" class="tk">60</text>
<path d="M223.62,145.5V148.9" stroke="#000" stroke-width="1"/>
<text transform="translate(223.62,160.7) scale(1.1,1)" text-anchor="middle" class="tk">72</text>
<text transform="translate(159.8,175.8) scale(0.67,1)" text-anchor="middle" class="ttl">Months</text>
<text transform="translate(35,82.5) rotate(-90) scale(0.685,1)" text-anchor="middle" class="ttl">Overall survival (%)</text>
<text transform="translate(82.6,111.3) scale(1.035,1)" class="pv">p = 0.79</text>
</g>
<path d="M414.2,658.6H421.4" stroke="#3e5e96" stroke-width="1.3"/><path d="M418,657.2V661.4" stroke="#3e5e96" stroke-width="0.7" opacity="0.75"/>
<text transform="translate(424.9,661.9) scale(0.845,1)" class="lg">Non-ITT HD-MTX</text>
<path d="M414.2,668.9H421.4" stroke="#bd1f48" stroke-width="1.3"/><path d="M418,667.5V671.7" stroke="#bd1f48" stroke-width="0.7" opacity="0.75"/>
<text transform="translate(424.9,671.9) scale(0.845,1)" class="lg">ITT HD-MTX</text>
<path d="M408,609.9V614.1M410,609.9V614.1M414,609.9V614.1M417,609.9V614.1M419,609.9V614.1M421,609.9V614.1M426,609.9V614.1M431,609.9V614.1M434,609.9V614.1M439,609.9V614.1M440,609.9V614.1M445,609.9V614.1M447,609.9V614.1M452,609.9V614.1M458,609.9V614.1M462,609.9V614.1M470,622.7V626.9M475,622.7V626.9M493.4,622.7V626.9" fill="none" stroke="#3e5e96" stroke-width="0.8" opacity="0.9"/>
<path d="M395,607.2V611.4M405,613.5V617.7M415,616.9V621.1M422,616.9V621.1M427,616.9V621.1M431,616.9V621.1M436,616.9V621.1M446,616.9V621.1M449,616.9V621.1M454,616.9V621.1M462,616.9V621.1M469,623.2V627.4M473,623.2V627.4M477,623.2V627.4M486.5,623.2V627.4M502.5,648.7V652.9" fill="none" stroke="#bd1f48" stroke-width="0.8" opacity="0.9"/>
<path d="M344,558.6L345.8,562.6H350.4V563.2L351,567.8L353.3,571.3L355.6,573.6L357.3,578.2L359,582.8L361.3,585.7H364.2V586.9H367.1V590.3L368.8,593.8H372.3V593.8L374,596.1L375.2,599H378.1V599.6H385.6V599.6L386.7,602.4L388.4,607.1L390.7,609.4H394.2V609.9H397.7V611.5H465.8V611.5H466.1V624.3H493.4V624.3" fill="none" stroke="#3e5e96" stroke-width="1.2"/>
<path d="M344,558.6L346.3,559.2L346.9,560.9H350.4V561.2L351.5,563.2L352.7,566.7L354.4,569H357.3V569.6L358.5,571.3L360.8,574.2L361.9,577.1L364.2,578.2L366,581.1L368.3,582.8L370,584.6L371.1,587.4L372.9,591.5L374.6,594.9L376.9,595.5L378.1,599H383.3V599L384.4,602.4H387.3V605.3L389.6,607.6H393.1V608.8L395.4,610.5L397.3,612.3H401.2V612.3H401.2V615.1H413.5V615.1L414.2,618.5H465.8V618.5L466.2,624.8H486.5V624.8H486.9V650.3H502.5V650.3" fill="none" stroke="#bd1f48" stroke-width="1.3"/>
<rect x="0.6" y="0.6" width="518.8" height="718.8" fill="none" stroke="#000" stroke-width="1.2"/>
</svg>
</body></html>
